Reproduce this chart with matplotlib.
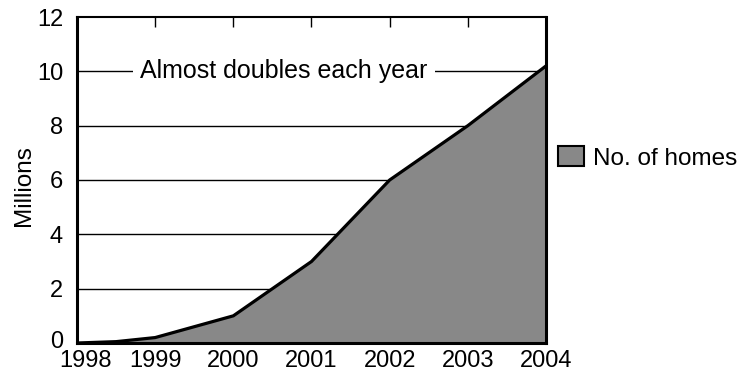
import matplotlib
matplotlib.use('Agg')
import matplotlib.pyplot as plt
import matplotlib.transforms as mtransforms

# Data
years = [1998, 1998.5, 1999, 2000, 2001, 2002, 2003, 2004]
homes_millions = [0.0, 0.05, 0.2, 1.0, 3.0, 6.0, 8.0, 10.2]
year_ticks = [1998, 1999, 2000, 2001, 2002, 2003, 2004]
y_ticks = [0, 2, 4, 6, 8, 10, 12]
grid_levels = [2, 4, 6, 8, 10]

plt.rcParams['font.family'] = ['Liberation Sans', 'DejaVu Sans']

fig = plt.figure(figsize=(7.42, 3.77), dpi=100)
ax = fig.add_axes([77 / 742, 1 - 343 / 377, 469 / 742, 326 / 377])

for lvl in grid_levels:
    ax.axhline(lvl, color='black', linewidth=1.0, zorder=1)

ax.fill_between(years, homes_millions, 0, facecolor='#888888',
                edgecolor='none', zorder=2, label='No. of homes')
ax.plot(years, homes_millions, color='black', linewidth=2.3, zorder=3,
        solid_joinstyle='miter')

ax.text(2000.65, 10, 'Almost doubles each year', fontsize=18,
        ha='center', va='center', zorder=4,
        bbox=dict(facecolor='white', edgecolor='none', pad=5))

ax.set_xlim(1998, 2004)
ax.set_ylim(0, 12)
ax.set_xticks(year_ticks)
ax.set_yticks(y_ticks)
ax.tick_params(axis='x', which='both', direction='in', top=True, bottom=False,
               length=7, width=1.0, labelsize=17, pad=5)
ax.tick_params(axis='y', length=0, labelsize=17, pad=10)

# nudge the corner labels apart, as in the original
first_x = ax.get_xticklabels()[0]
first_x.set_transform(first_x.get_transform() +
                      mtransforms.ScaledTranslation(9 / 100, 0, fig.dpi_scale_trans))
first_y = ax.get_yticklabels()[0]
first_y.set_transform(first_y.get_transform() +
                      mtransforms.ScaledTranslation(0, 3 / 100, fig.dpi_scale_trans))

fig.text(24 / 742, 1 - 186 / 377, 'Millions', fontsize=17.5, rotation=90,
         ha='center', va='center')

for side in ['left', 'bottom', 'right']:
    ax.spines[side].set_linewidth(2.2)
ax.spines['top'].set_linewidth(1.5)

handles, labels = ax.get_legend_handles_labels()
leg = fig.legend(handles, labels, loc='center left',
                 bbox_to_anchor=(558 / 742, 1 - 158 / 377), frameon=False,
                 fontsize=17.5, handlelength=1.05, handleheight=0.9,
                 handletextpad=0.4, borderpad=0, borderaxespad=0)
for p in leg.get_patches():
    p.set_edgecolor('black')
    p.set_linewidth(1.5)

fig.savefig('out.png', dpi=100)
